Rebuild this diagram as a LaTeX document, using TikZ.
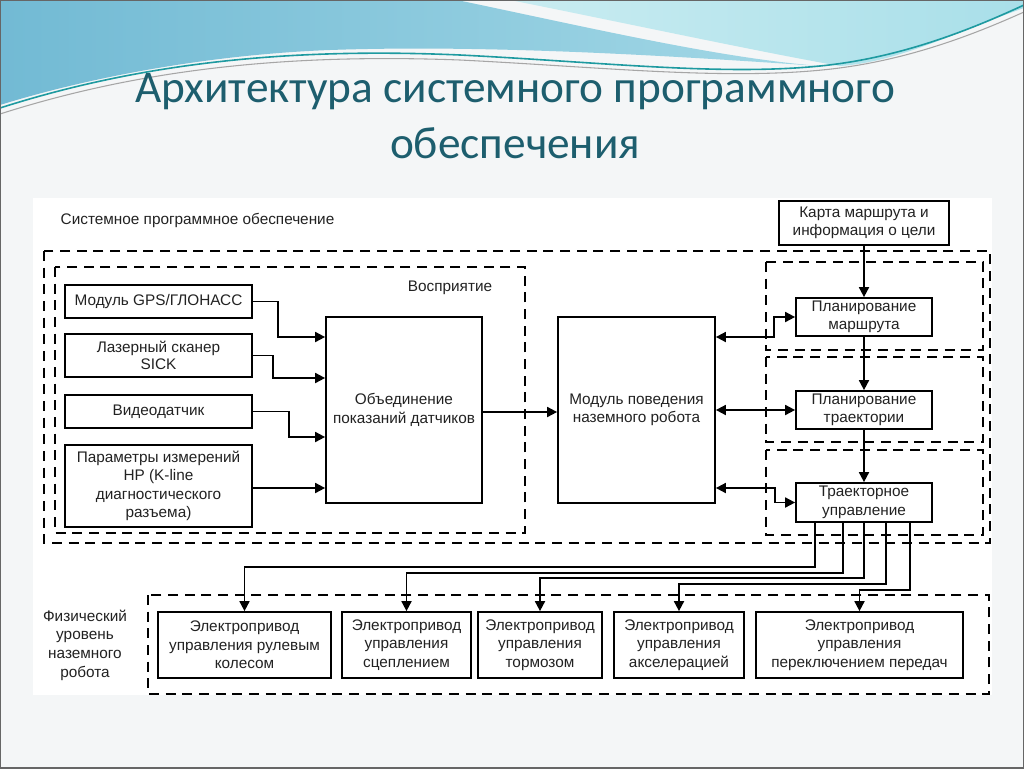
\documentclass[tikz,border=0pt]{standalone}
\usepackage{fontspec}
\setmainfont{Liberation Sans}
\newfontfamily\titlefont{Carlito}
\usetikzlibrary{arrows.meta}
\definecolor{titlecol}{HTML}{1D5E6E}
\definecolor{wavea}{HTML}{72BAD4}
\definecolor{waveb}{HTML}{A3D8E6}
\definecolor{wavec}{HTML}{A9DFE9}
\definecolor{waved}{HTML}{C9ECF1}
\definecolor{tealline}{HTML}{1E9AA0}
\definecolor{slidebg}{HTML}{F4F6F7}
\definecolor{txt}{HTML}{222222}
\begin{document}
\begin{tikzpicture}[x=0.75pt,y=-0.75pt,
  box/.style={draw, line width=1.3pt, align=center, inner sep=1pt, text=txt,
    font=\fontsize{11.5}{13.9}\selectfont},
  grp/.style={draw, dash pattern=on 7.5pt off 5pt, line width=1.3pt},
  lbl/.style={text=txt, align=center, font=\fontsize{11.5}{14}\selectfont},
  arr/.style={line width=1.3pt, -{Triangle[length=7.5pt,width=7.5pt]}},
  arrb/.style={line width=1.3pt, {Triangle[length=7.5pt,width=7.5pt]}-{Triangle[length=7.5pt,width=7.5pt]}}]
\useasboundingbox (0,0) rectangle (1024,768);
% slide background
\fill[slidebg] (0,0) rectangle (1024,768);
% waves
\shade[left color=wavea, right color=waveb]
  (0,0) -- (457,0) .. controls (600,30) and (720,58) .. (820,66)
  .. controls (700,58) and (500,44) .. (330,50)
  .. controls (200,55) and (80,80) .. (0,105) -- cycle;
\shade[left color=waved, right color=wavec]
  (510,0) -- (1024,0) -- (1024,8) .. controls (960,30) and (900,62) .. (840,66)
  .. controls (760,52) and (620,22) .. (510,0) -- cycle;
\draw[tealline, line width=1.2pt] (0,108) .. controls (150,60) and (300,48) .. (460,55)
  .. controls (600,62) and (720,76) .. (820,66) .. controls (900,58) and (970,30) .. (1024,5);
\draw[gray!70, line width=0.8pt] (0,114) .. controls (150,66) and (300,54) .. (460,60)
  .. controls (600,67) and (720,80) .. (822,70) .. controls (905,62) and (975,34) .. (1024,12);
\draw[gray!80!black, line width=1pt] (0,0) rectangle (1024,768);
% title
\node[text=titlecol, font=\titlefont\fontsize{34}{40}\selectfont] (title1) at (515,92) {Архитектура системного программного};
\node[text=titlecol, font=\titlefont\fontsize{34}{40}\selectfont] (title2) at (515,143) {обеспечения};
% diagram area
\fill[white] (33,198) rectangle (992,695);
% group frames
\draw[grp] (44,251) rectangle (990,543);
\draw[grp] (55,267) rectangle (525,533);
\draw[grp] (766,262) rectangle (983,350);
\draw[grp] (766,357) rectangle (983,442);
\draw[grp] (766,450) rectangle (983,535);
\draw[grp] (148,595) rectangle (989,694);
% labels
\node[lbl, anchor=west] (sysl) at (56,220) {Системное программное обеспечение};
\node[lbl] (perc) at (450,288) {Восприятие};
\node[lbl] (phys) at (85,645) {Физический\\уровень\\наземного\\робота};
% sensor boxes
\node[box, minimum width=140.25pt, minimum height=24.75pt] (gps) at (158.5,301.5) {Модуль GPS/ГЛОНАСС};
\node[box, minimum width=140.25pt, minimum height=32.25pt, font=\fontsize{11.5}{13}\selectfont] (laser) at (158.5,355.5) {Лазерный сканер\\SICK};
\node[box, minimum width=140.25pt, minimum height=24.75pt] (video) at (158.5,411.5) {Видеодатчик};
\node[box, minimum width=140.25pt, minimum height=61.5pt] (param) at (158.5,486) {Параметры измерений\\НР (K-line\\диагностического\\разъема)};
% central boxes
\node[box, minimum width=117pt, minimum height=139.5pt] (fusion) at (404,410) {Объединение\\показаний датчиков};
\node[box, minimum width=117.75pt, minimum height=139.5pt] (behav) at (636.5,410) {Модуль поведения\\наземного робота};
% right boxes
\node[box, minimum width=127.5pt, minimum height=33pt] (map) at (864,223) {Карта маршрута и\\информация о цели};
\node[box, minimum width=102pt, minimum height=28.5pt] (route) at (864,317) {Планирование\\маршрута};
\node[box, minimum width=102pt, minimum height=28.5pt] (traj) at (864,410) {Планирование\\траектории};
\node[box, minimum width=102pt, minimum height=29.25pt] (ctrl) at (864,502.5) {Траекторное\\управление};
% actuator boxes
\node[box, minimum width=129.75pt, minimum height=49.5pt] (steer) at (244.5,645) {Электропривод\\управления рулевым\\колесом};
\node[box, minimum width=96.75pt, minimum height=49.5pt] (clutch) at (406.5,645) {Электропривод\\управления\\сцеплением};
\node[box, minimum width=93pt, minimum height=49.5pt] (brake) at (540,645) {Электропривод\\управления\\тормозом};
\node[box, minimum width=97.5pt, minimum height=49.5pt] (accel) at (679,645) {Электропривод\\управления\\акселерацией};
\node[box, minimum width=155.25pt, minimum height=49.5pt] (gear) at (859.5,645) {Электропривод\\управления\\переключением передач};
% sensor connectors
\draw[arr] (gps.east) -- ++(25,0) |- (fusion.west |- 0,337);
\draw[arr] (laser.east) -- ++(20,0) |- (fusion.west |- 0,378);
\draw[arr] (video.east) -- ++(36,0) |- (fusion.west |- 0,437);
\draw[arr] (param.east |- 0,488) -- (fusion.west |- 0,488);
\draw[arr] (fusion.east |- 0,412) -- (behav.west |- 0,412);
% right connectors
\draw[arrb] (behav.east |- 0,337) -- (774,337) |- (route.west);
\draw[arrb] (behav.east |- traj.west) -- (traj.west);
\draw[arrb] (behav.east |- 0,488) -- (775,488) |- (ctrl.west);
\draw[arr] (map.south) -- (route.north);
\draw[arr] (route.south) -- (traj.north);
\draw[arr] (traj.south) -- (ctrl.north);
% actuator connectors
\draw[arr] (ctrl.south -| 815,0) -- (815,567) -| (steer.north);
\draw[arr] (ctrl.south -| 843,0) -- (843,573) -| (clutch.north);
\draw[arr] (ctrl.south -| 864,0) -- (864,578) -| (brake.north);
\draw[arr] (ctrl.south -| 886,0) -- (886,584) -| (accel.north);
\draw[arr] (ctrl.south -| 910,0) -- (910,590) -| (gear.north);
\end{tikzpicture}
\end{document}
